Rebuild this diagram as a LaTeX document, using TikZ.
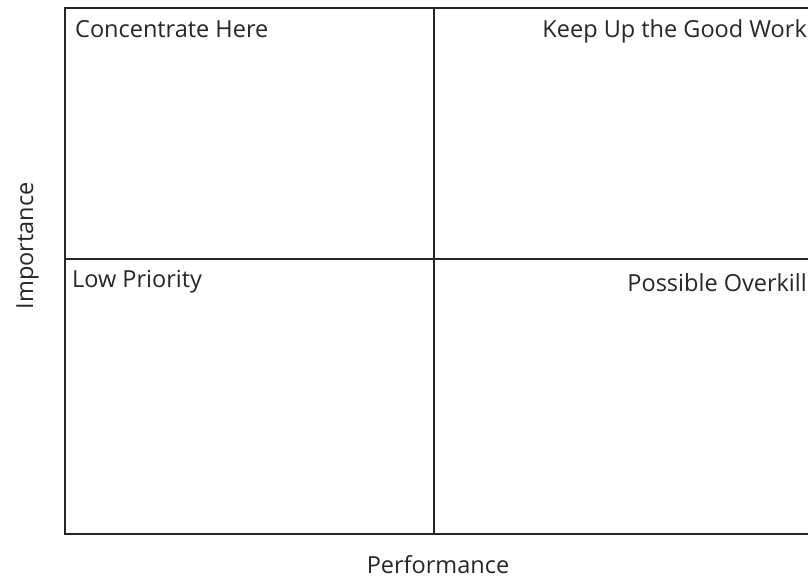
\documentclass[tikz,border=0pt]{standalone}
\usepackage{fontspec}
\setmainfont{Open Sans}
\begin{document}
\begin{tikzpicture}[x=1pt,y=-1pt,
  grid/.style={draw=black!85,line width=1.5pt},
  lab/.style={inner sep=0pt,font=\fontsize{23.5}{28}\selectfont,text=black!85}]
\useasboundingbox (0,0) rectangle (808,579);
% quadrant frame, open on the right
\coordinate (tr) at (808,8);
\coordinate (tl) at (65,8);
\coordinate (bl) at (65,534);
\coordinate (br) at (808,534);
\coordinate (mt) at (434,8);
\coordinate (mb) at (434,534);
\coordinate (ml) at (65,259);
\coordinate (mr) at (808,259);
\draw[grid] (tr) -- (tl) -- (bl) -- (br);
\draw[grid] (mt) -- (mb);
\draw[grid] (ml) -- (mr);
% quadrant labels
\node[lab,anchor=base west] (q1) at (75,37) {Concentrate Here};
\node[lab,anchor=base east] (q2) at (807,37) {Keep Up the Good Work};
\node[lab,anchor=base west] (q3) at (72,287) {Low Priority};
\node[lab,anchor=base east] (q4) at (807,291) {Possible Overkill};
% axis labels
\node[lab,anchor=base] (xl) at (438,573) {Performance};
\node[lab,anchor=base,rotate=90] (yl) at (33,246) {Importance};
\end{tikzpicture}
\end{document}
